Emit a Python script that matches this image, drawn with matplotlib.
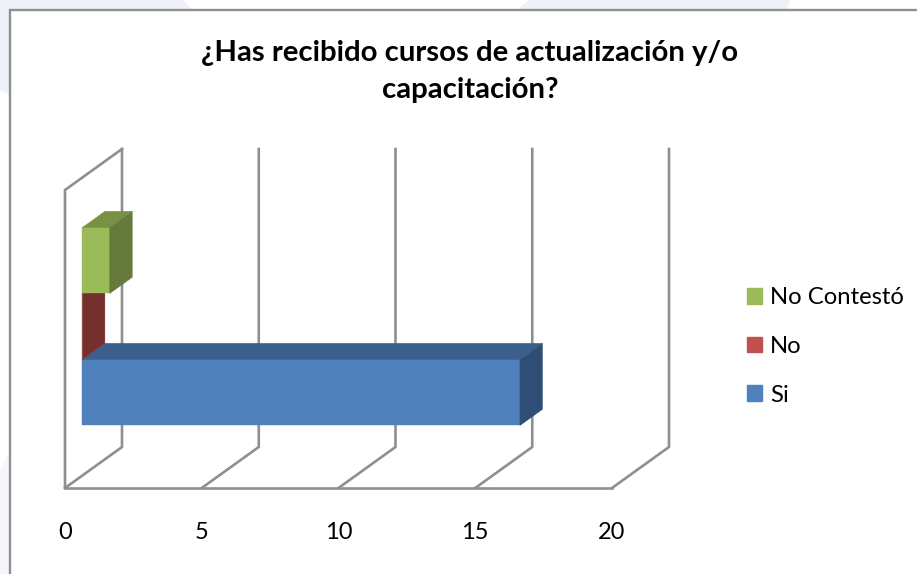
import matplotlib
matplotlib.use("Agg")
import matplotlib.pyplot as plt
from matplotlib.patches import Patch, Polygon, Rectangle

series = ["Si", "No", "No Contestó"]
values = [16, 0, 1]
ticks = [0, 5, 10, 15, 20]
title = "¿Has recibido cursos de actualización y/o\ncapacitación?"

front_colors = ["#4f81bd", "#c0504d", "#9bbb59"]
top_colors = ["#3b5f8c", "#8e3b39", "#789244"]
side_colors = ["#2f4e75", "#772f2d", "#667b3b"]

W, H = 917, 574
GRID = "#8f8f8f"

# oblique depth of the chart box, in axis units
DX, DY = 57 / 27.35, 41 / 298
GAP, BAR_H = 50 / 298, 66 / 298
D0, D1 = 0.305, 0.7


def proj(val, h, depth):
    return val + depth * DX, h + depth * DY


fig = plt.figure(figsize=(W / 100, H / 100), dpi=100, facecolor="white")
plt.rcParams["font.family"] = ["Lato", "DejaVu Sans"]

# pale page background behind the chart frame, then the frame
bg = fig.add_axes([0, 0, 1, 1], zorder=0)
bg.set_xlim(0, W)
bg.set_ylim(H, 0)
bg.axis("off")
bg.add_patch(Polygon([(0, 0), (184, 0), (192, 10), (10, 10), (10, 95), (0, 90)], color="#eef2f8", lw=0))
bg.add_patch(Polygon([(529, 0), (790, 0), (787, 10), (517, 10)], color="#eef2f8", lw=0))
bg.add_patch(Polygon([(0, 470), (10, 450), (10, 574), (0, 574)], color="#f4f6fa", lw=0))
bg.add_patch(Rectangle((9.5, 9.5), W, H, fc="white", ec=GRID, lw=1.7))

ax = fig.add_axes([65 / W, (H - 488) / H, 547 / W, 298 / H], zorder=1)
ax.set_xlim(ticks[0], ticks[-1])
ax.set_ylim(0, 1)
ax.patch.set_alpha(0)
for s in ax.spines.values():
    s.set_visible(False)
ax.set_yticks([])
ax.set_xticks(ticks)
ax.tick_params(axis="x", length=0, pad=24.5, labelsize=17)

# walls and floor
for t in ticks:
    xs, ys = zip(proj(t, 0, 0), proj(t, 0, 1), proj(t, 1, 1))
    ax.plot(xs, ys, color=GRID, lw=1.9, clip_on=False, solid_joinstyle="miter", zorder=1)
xs, ys = zip(proj(ticks[0], 0, 0), proj(ticks[0], 1, 0), proj(ticks[0], 1, 1))
ax.plot(xs, ys, color=GRID, lw=1.9, clip_on=False, solid_joinstyle="miter", zorder=1)
ax.plot([ticks[0], ticks[-1]], [0, 0], color=GRID, lw=1.9, clip_on=False, zorder=1)

# bars, bottom one first
for i, v in enumerate(values):
    b = GAP + i * BAR_H
    t = b + BAR_H
    z = 2 + i
    faces = [
        ([proj(0, b, D0), proj(v, b, D0), proj(v, t, D0), proj(0, t, D0)], front_colors[i]),
        ([proj(0, t, D0), proj(v, t, D0), proj(v, t, D1), proj(0, t, D1)], top_colors[i]),
        ([proj(v, b, D0), proj(v, b, D1), proj(v, t, D1), proj(v, t, D0)], side_colors[i]),
    ]
    for pts, col in faces:
        ax.add_patch(Polygon(pts, fc=col, ec=col, lw=0.3, clip_on=False, zorder=z))

fig.text(470 / W, 1 - 71.5 / H, title, ha="center", va="center", fontsize=21.2,
         fontweight="bold", color="black", linespacing=1.5)

handles = [Patch(color=front_colors[i]) for i in range(len(series))][::-1]
fig.legend(handles, series[::-1], loc="center left", bbox_to_anchor=(747 / W, 1 - 346.5 / H),
           frameon=False, fontsize=17.2, handlelength=0.63, handleheight=0.63,
           handletextpad=0.33, labelspacing=1.16, borderpad=0, borderaxespad=0)

fig.savefig("out.png", dpi=100)
